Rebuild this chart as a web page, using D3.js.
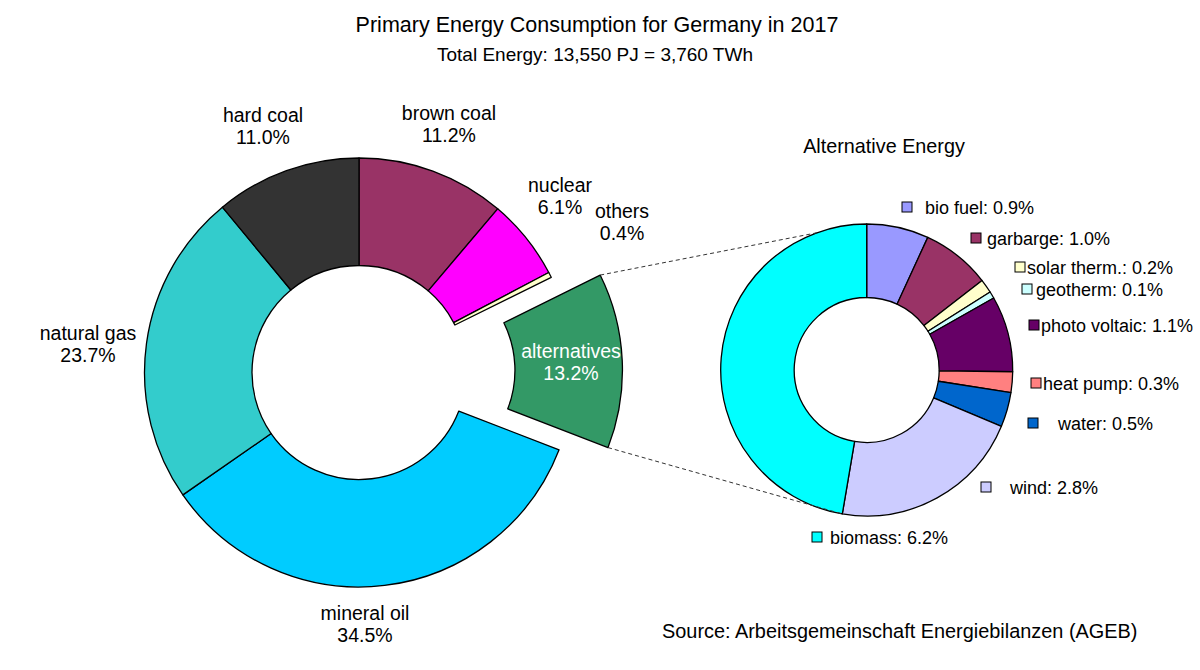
<!DOCTYPE html>
<html>
<head>
<meta charset="utf-8">
<script src="https://cdn.jsdelivr.net/npm/d3@7"></script>
<style>
    body { margin: 0; background: #fff; }
    text { font-family: "Liberation Sans", Arial, sans-serif; fill: #000; }
</style>
</head>
<body>
<svg id="chart" width="1200" height="670"></svg>
<script>
// main pie, clockwise from 12 o'clock
const mainNames = ["brown coal", "nuclear", "others", "alternatives", "mineral oil", "natural gas", "hard coal"];
const mainValues = [11.2, 6.1, 0.4, 13.2, 34.5, 23.7, 11.0];
const mainColors = ["#993366", "#ff00ff", "#ffffcc", "#339966", "#00ccff", "#33cccc", "#333333"];

// alternative energy breakdown, clockwise from 12 o'clock
const altNames = ["bio fuel", "garbarge", "solar therm.", "geotherm", "photo voltaic", "heat pump", "water", "wind", "biomass"];
const altValues = [0.9, 1.0, 0.2, 0.1, 1.1, 0.3, 0.5, 2.8, 6.2];
const altColors = ["#9999ff", "#993366", "#ffffcc", "#ccffff", "#660066", "#ff8080", "#0066cc", "#ccccff", "#00ffff"];

// where the labels sit (first baseline / text start), placed by hand like the original
const mainLabelPos = {
    "brown coal": [449, 120], "nuclear": [560, 192], "others": [622, 218],
    "alternatives": [571, 358], "mineral oil": [365, 620], "natural gas": [88, 340], "hard coal": [263, 122]
};
const altLabelPos = [
    [902, 207, 925], [971, 238, 987], [1015, 267, 1027], [1022, 289, 1036], [1029, 325, 1041],
    [1031, 383, 1043], [1028, 423, 1058], [981, 487, 1010], [812, 537, 830]
];

const svg = d3.select("#chart");

const mainCenter = [359, 372.5];
const mainOuter = 214.5, mainInner = 107;
const explode = 49;

const altCenter = [866.7, 370];
const altOuter = 146, altInner = 72.5;

const pie = d3.pie().sort(null).value(d => d.value);

const mainData = pie(mainNames.map((n, i) => ({name: n, value: mainValues[i], color: mainColors[i]})));
const altData = pie(altNames.map((n, i) => ({name: n, value: altValues[i], color: altColors[i]})));

const mainArc = d3.arc().innerRadius(mainInner).outerRadius(mainOuter);
const altArc = d3.arc().innerRadius(altInner).outerRadius(altOuter);

function offsetOf(d) {
    if (d.data.name !== "alternatives") return [0, 0];
    const a = (d.startAngle + d.endAngle) / 2;
    return [explode * Math.sin(a), -explode * Math.cos(a)];
}

// main donut
const mainG = svg.append("g").attr("transform", `translate(${mainCenter})`);
mainG.selectAll("path")
    .data(mainData)
    .enter().append("path")
    .attr("transform", d => `translate(${offsetOf(d)})`)
    .attr("d", mainArc)
    .attr("fill", d => d.data.color)
    .attr("stroke", "#000")
    .attr("stroke-width", 1.3)
    .attr("stroke-linejoin", "round");

// secondary donut
const altG = svg.append("g").attr("transform", `translate(${altCenter})`);
altG.selectAll("path")
    .data(altData)
    .enter().append("path")
    .attr("d", altArc)
    .attr("fill", d => d.data.color)
    .attr("stroke", "#000")
    .attr("stroke-width", 1.3)
    .attr("stroke-linejoin", "round");

// connector lines from the exploded slice to the small donut
const alt = mainData.find(d => d.data.name === "alternatives");
const off = offsetOf(alt);
const corner = a => [mainCenter[0] + off[0] + mainOuter * Math.sin(a), mainCenter[1] + off[1] - mainOuter * Math.cos(a)];
const rim = a => [altCenter[0] + altOuter * Math.sin(a), altCenter[1] - altOuter * Math.cos(a)];
const biomass = altData[altData.length - 1];
const connectors = [
    [corner(alt.startAngle), rim(-20 * Math.PI / 180)],
    [corner(alt.endAngle), rim(biomass.startAngle)]
];
svg.append("g").selectAll("line")
    .data(connectors)
    .enter().append("line")
    .attr("x1", d => d[0][0]).attr("y1", d => d[0][1])
    .attr("x2", d => d[1][0]).attr("y2", d => d[1][1])
    .attr("stroke", "#333")
    .attr("stroke-width", 1)
    .attr("stroke-dasharray", "4,3");

// main labels
const fmt = v => v.toFixed(1) + "%";
const mainLabels = svg.append("g")
    .selectAll("text")
    .data(mainData)
    .enter().append("text")
    .attr("text-anchor", "middle")
    .attr("font-size", 19.5)
    .style("fill", d => d.data.name === "alternatives" ? "#fff" : "#000")
    .attr("transform", d => `translate(${mainLabelPos[d.data.name]})`);
mainLabels.append("tspan").attr("x", 0).attr("y", 0).text(d => d.data.name);
mainLabels.append("tspan").attr("x", 0).attr("y", 22).text(d => fmt(d.data.value));

// secondary labels with colour keys
const altLabels = svg.append("g")
    .selectAll("g")
    .data(altData)
    .enter().append("g");
altLabels.append("rect")
    .attr("x", (d, i) => altLabelPos[i][0])
    .attr("y", (d, i) => altLabelPos[i][1] - 5)
    .attr("width", 10)
    .attr("height", 10)
    .attr("fill", d => d.data.color)
    .attr("stroke", "#000")
    .attr("stroke-width", 1);
altLabels.append("text")
    .attr("x", (d, i) => altLabelPos[i][2])
    .attr("y", (d, i) => altLabelPos[i][1] + 6.5)
    .attr("font-size", 18)
    .text(d => d.data.name + ": " + fmt(d.data.value));

// titles
svg.append("text")
    .attr("x", 597).attr("y", 31.5)
    .attr("text-anchor", "middle")
    .attr("font-size", 21.5)
    .text("Primary Energy Consumption for Germany in 2017");
svg.append("text")
    .attr("x", 595).attr("y", 61)
    .attr("text-anchor", "middle")
    .attr("font-size", 19)
    .text("Total Energy: 13,550 PJ = 3,760 TWh");
svg.append("text")
    .attr("x", 884).attr("y", 153)
    .attr("text-anchor", "middle")
    .attr("font-size", 19.8)
    .text("Alternative Energy");
svg.append("text")
    .attr("x", 662).attr("y", 638)
    .attr("font-size", 19.9)
    .text("Source: Arbeitsgemeinschaft Energiebilanzen (AGEB)");
</script>
</body>
</html>
